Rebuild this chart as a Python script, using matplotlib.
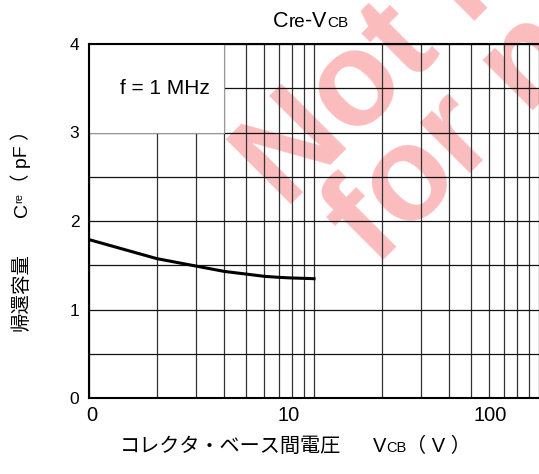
import numpy as np
import matplotlib
matplotlib.use("Agg")
import matplotlib.pyplot as plt
from matplotlib.patches import Rectangle
from matplotlib.ticker import FixedLocator, NullFormatter

plt.rcParams['font.family'] = ['Liberation Sans', 'Noto Sans CJK JP', 'DejaVu Sans']

# Cre-VCB curve
vcb = [1, 2, 3, 4, 5, 6, 7, 8, 9, 10]
cre = [1.79, 1.575, 1.49, 1.43, 1.40, 1.375, 1.363, 1.356, 1.352, 1.348]

x_major = [1, 10, 100]
x_minor = [2, 3, 4, 5, 6, 7, 8, 9, 20, 30, 40, 50, 60, 70, 80, 90]
x_labels = ["0", "10", "100"]
x_label_shift = [3, -25, -49]   # the labels in the original sit left of their lines
y_major = [0, 1, 2, 3, 4]
y_minor = [0.5, 1.5, 2.5, 3.5]

W, H = 539, 474
fig = plt.figure(figsize=(W / 100, H / 100), dpi=100)
fig.patch.set_facecolor("white")

# axes in pixel terms: left 89, top 44, bottom 398, right past the edge
left, top, bottom = 89, 44, 398
xmax = 110
right = left + 225 * np.log10(xmax)
ax = fig.add_axes([left / W, 1 - bottom / H, (right - left) / W, (bottom - top) / H])
ax.patch.set_visible(False)

ax.set_xscale("log")
ax.set_xlim(1, xmax)
ax.set_ylim(0, 4)
ax.xaxis.set_major_locator(FixedLocator(x_major))
ax.xaxis.set_minor_locator(FixedLocator(x_minor))
ax.xaxis.set_major_formatter(NullFormatter())
ax.xaxis.set_minor_formatter(NullFormatter())
ax.set_yticks(y_major)
ax.set_yticks(y_minor, minor=True)
ax.tick_params(axis="both", which="both", length=0)
ax.tick_params(axis="y", labelsize=12.5, pad=7)
ax.set_axisbelow(True)
ax.xaxis.grid(True, which="both", color="#333333", lw=0.9)
ax.yaxis.grid(True, which="both", color="#111111", lw=0.9)

for s in ["left", "bottom", "top"]:
    ax.spines[s].set_linewidth(1.5)
ax.spines["right"].set_visible(False)

for v, lbl, dx in zip(x_major, x_labels, x_label_shift):
    ax.annotate(lbl, xy=(v, 0), xycoords=("data", "axes fraction"),
                xytext=(dx, -8), textcoords="offset pixels",
                ha="center", va="top", fontsize=14.5)

# white box for the condition note
ax.add_patch(Rectangle((1, 3), 3, 1, facecolor="white", edgecolor="#999999",
                       lw=0.8, zorder=0.6))
ax.text(2.18, 3.5, "f = 1 MHz", ha="center", va="center", fontsize=15, zorder=3)

ax.plot(vcb, cre, color="black", lw=2.2, zorder=3)


def put_pieces(x, y, pieces, rotation=0):
    # lay out text pieces one after another, x/y in pixels from top-left
    # each piece: (text, size, raise in px)
    r = fig.canvas.get_renderer()
    for s, size, up in pieces:
        if rotation == 0:
            px, py = x, y - up
        else:
            px, py = x - up, y
        t = fig.text(px / W, 1 - py / H, s, fontsize=size, rotation=rotation,
                     rotation_mode="anchor", ha="left", va="baseline")
        bb = t.get_window_extent(r)
        if rotation == 0:
            x += bb.width
        else:
            y -= bb.height


put_pieces(273, 27, [("C", 15.5, 0), ("re", 13.5, 0), ("-", 15.5, 0),
                     ("V", 15.5, 0), ("CB", 11, 0)])
put_pieces(120, 452, [("コレクタ・ベース間電圧", 14.5, 0), ("　  ", 14.5, 0),
                      ("V", 14.5, 0), ("CB", 10.5, 0), ("（ V ）", 14.5, 0)])
put_pieces(27, 331, [("帰還容量", 14, 0), ("　   ", 14, 0), ("C", 14, 0),
                     ("re", 8, 5), ("（ pF ）", 14, 0)], rotation=90)

# "Not recommended for new design" stamp, under the grid
wm = dict(fontsize=96, fontweight="bold", color="#fbbcbe", rotation=45,
          rotation_mode="anchor", ha="left", va="baseline", zorder=-1)
fig.text(285 / W, 1 - 210 / H, "Not recommended", **wm)
fig.text(375 / W, 1 - 268 / H, "for new design", **wm)

fig.savefig("out.png", dpi=100)
